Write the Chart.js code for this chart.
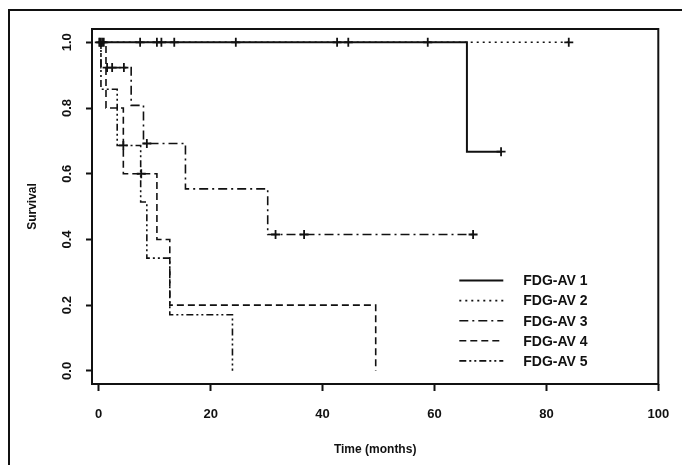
<!DOCTYPE html>
<html>
<head>
<meta charset="utf-8">
<script src="https://cdn.jsdelivr.net/npm/chart.js@4.4.0/dist/chart.umd.min.js"></script>
<style>
  html, body { margin: 0; padding: 0; background: #fff; overflow: hidden; }
  #wrap { position: relative; width: 682px; height: 465px; }
  #frame { position: absolute; left: 8px; top: 9px; width: 720px; height: 520px;
           border-left: 2px solid #111; border-top: 2px solid #111; }
  canvas { position: absolute; left: 0; top: 0; }
</style>
</head>
<body>
<div id="wrap">
  <div id="frame"></div>
  <canvas id="kmChart" width="682" height="465"></canvas>
</div>
<script>
// Kaplan-Meier curves: time of each step (months) and survival just after it
const groupNames = ['FDG-AV 1', 'FDG-AV 2', 'FDG-AV 3', 'FDG-AV 4', 'FDG-AV 5'];

const av1Times = [0, 65.8, 71.9];
const av1Surv  = [1, 0.667, 0.667];
const av2Times = [0, 84];
const av2Surv  = [1, 1];
const av3Times = [0, 0.4, 5.8, 8.0, 15.5, 30.2, 66.9];
const av3Surv  = [1, 0.923, 0.808, 0.692, 0.554, 0.415, 0.415];
const av4Times = [0, 1.3, 4.4, 10.4, 12.7, 49.5];
const av4Surv  = [1, 0.8, 0.6, 0.4, 0.2, 0];
const av5Times = [0, 0.4, 3.3, 7.5, 8.6, 12.7, 23.9];
const av5Surv  = [1, 0.857, 0.686, 0.514, 0.343, 0.171, 0];

// censored observations (+ marks)
const av1CensorTimes = [0.1, 0.6, 7.4, 11.2, 24.5, 44.6, 71.9];
const av1CensorSurv  = [1, 1, 1, 1, 1, 1, 0.667];
const av2CensorTimes = [0.3, 0.9, 10.4, 13.5, 42.6, 58.8, 84];
const av2CensorSurv  = [1, 1, 1, 1, 1, 1, 1];
const av3CensorTimes = [1.5, 2.4, 4.5, 8.6, 31.6, 36.7, 66.9];
const av3CensorSurv  = [0.923, 0.923, 0.923, 0.692, 0.415, 0.415, 0.415];
const av4CensorTimes = [7.6];
const av4CensorSurv  = [0.6];
const av5CensorTimes = [4.4];
const av5CensorSurv  = [0.686];

const xTicks = [0, 20, 40, 60, 80, 100];
const yTicks = [0, 0.2, 0.4, 0.6, 0.8, 1.0];

const ink = '#111';
const dashes = [[], [2, 4], [9, 4, 2, 4], [7, 4], [7, 3, 2, 3, 2, 3]];
const widths = [2, 1.6, 1.6, 1.6, 1.6];

function toPoints(xs, ys) {
    return xs.map((x, i) => ({ x: x, y: ys[i] }));
}

const curves = [
    [av1Times, av1Surv], [av2Times, av2Surv], [av3Times, av3Surv],
    [av4Times, av4Surv], [av5Times, av5Surv]
];
const censors = [
    [av1CensorTimes, av1CensorSurv], [av2CensorTimes, av2CensorSurv],
    [av3CensorTimes, av3CensorSurv], [av4CensorTimes, av4CensorSurv],
    [av5CensorTimes, av5CensorSurv]
];

const datasets = [];
curves.forEach((c, i) => {
    datasets.push({
        label: groupNames[i],
        data: toPoints(c[0], c[1]),
        stepped: 'before',
        borderColor: ink,
        borderWidth: widths[i],
        borderDash: dashes[i],
        pointRadius: 0,
        fill: false
    });
});
censors.forEach((c, i) => {
    datasets.push({
        label: groupNames[i] + ' censored',
        data: toPoints(c[0], c[1]),
        showLine: false,
        pointStyle: 'cross',
        pointRadius: 4.5,
        borderColor: ink,
        borderWidth: 1.8,
        isCensor: true
    });
});

// frame around the plotting region
const boxPlugin = {
    id: 'box',
    afterDraw(chart) {
        const { ctx, chartArea: a } = chart;
        ctx.save();
        ctx.strokeStyle = ink;
        ctx.lineWidth = 2;
        ctx.strokeRect(a.left, a.top, a.right - a.left, a.bottom - a.top);
        ctx.restore();
    }
};

// legend inside the plot, bottom right
const legendPlugin = {
    id: 'innerLegend',
    afterDraw(chart) {
        const { ctx, chartArea: a } = chart;
        ctx.save();
        ctx.font = 'bold 14px "Liberation Sans", Arial, sans-serif';
        ctx.textBaseline = 'middle';
        ctx.fillStyle = ink;
        chart.data.datasets.forEach((ds, i) => {
            if (ds.isCensor) return;
            const y = a.bottom - 103.5 + i * 20.1;
            ctx.strokeStyle = ink;
            ctx.lineWidth = ds.borderWidth;
            ctx.setLineDash(ds.borderDash);
            ctx.beginPath();
            ctx.moveTo(a.right - 199, y);
            ctx.lineTo(a.right - 155, y);
            ctx.stroke();
            ctx.setLineDash([]);
            ctx.fillText(ds.label, a.right - 135, y + 1);
        });
        ctx.restore();
    }
};

const tickFont = { family: '"Liberation Sans", Arial, sans-serif', size: 13, weight: 'bold' };

new Chart(document.getElementById('kmChart').getContext('2d'), {
    type: 'line',
    data: { datasets: datasets },
    options: {
        responsive: false,
        animation: false,
        layout: { padding: { left: 0, top: 29, right: 23.7, bottom: 0 } },
        plugins: {
            legend: { display: false },
            tooltip: { enabled: false }
        },
        scales: {
            x: {
                type: 'linear',
                min: -1.2,
                max: 100,
                afterBuildTicks: s => { s.ticks = xTicks.map(v => ({ value: v })); },
                afterFit: s => { s.height = 81; s.paddingLeft = 0; s.paddingRight = 0; },
                grid: { drawOnChartArea: false, drawTicks: true, tickLength: 7, tickWidth: 2, tickColor: ink },
                border: { display: false },
                ticks: { color: ink, font: tickFont, padding: 16, maxRotation: 0, autoSkip: false },
                title: {
                    display: true, text: 'Time (months)', color: ink,
                    font: { family: '"Liberation Sans", Arial, sans-serif', size: 12, weight: 'bold' },
                    padding: { top: 8, bottom: 8 }
                }
            },
            y: {
                type: 'linear',
                min: -0.04,
                max: 1.0405,
                afterBuildTicks: s => { s.ticks = yTicks.map(v => ({ value: v })); },
                afterFit: s => { s.width = 92; },
                grid: { drawOnChartArea: false, drawTicks: true, tickLength: 6, tickWidth: 2, tickColor: ink },
                border: { display: false },
                ticks: {
                    color: ink, font: tickFont, padding: 10, minRotation: 90, maxRotation: 90,
                    crossAlign: 'center', autoSkip: false,
                    callback: v => v.toFixed(1)
                },
                title: {
                    display: true, text: 'Survival', color: ink,
                    font: { family: '"Liberation Sans", Arial, sans-serif', size: 12, weight: 'bold' },
                    padding: { top: 25, bottom: 25 }
                }
            }
        }
    },
    plugins: [boxPlugin, legendPlugin]
});
</script>
</body>
</html>
